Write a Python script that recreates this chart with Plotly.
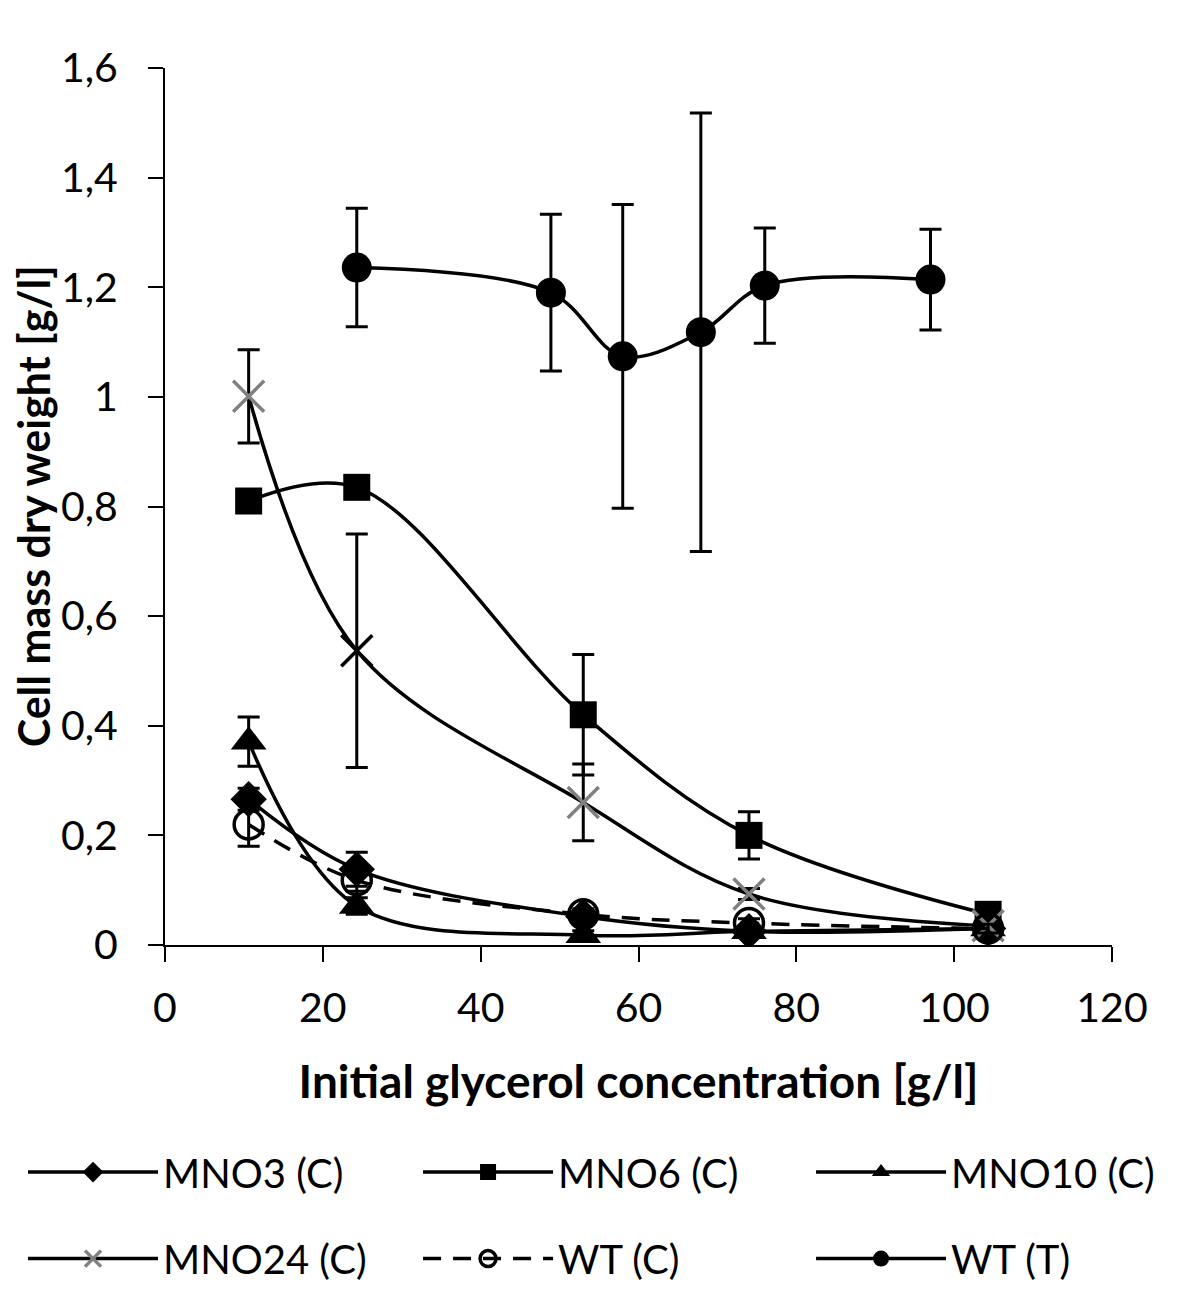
import plotly.graph_objects as go

# ---- data ----
x_c = [10.6, 24.3, 53.0, 74.0, 104.3]

mno3_y = [0.266, 0.138, 0.052, 0.025, 0.030]
mno3_err = [0.020, 0.031, 0.010, 0.008, 0.008]

mno6_y = [0.810, 0.835, 0.420, 0.200, 0.056]
mno6_err = [0.015, 0.015, 0.110, 0.043, 0.008]

mno10_y = [0.371, 0.071, 0.018, 0.025, 0.030]
mno10_err = [0.045, 0.015, 0.008, 0.008, 0.008]

mno24_y = [1.001, 0.537, 0.260, 0.093, 0.035]
mno24_err = [0.085, 0.213, 0.070, 0.010, 0.008]

wtc_y = [0.220, 0.118, 0.056, 0.040, 0.030]
wtc_err = [0.040, 0.020, 0.010, 0.008, 0.008]

x_t = [24.3, 48.9, 58.0, 67.9, 76.0, 97.0]
wtt_y = [1.236, 1.190, 1.074, 1.118, 1.203, 1.214]
wtt_err = [0.108, 0.143, 0.277, 0.400, 0.105, 0.092]

FONT = "Lato"
BLACK = "#000000"
GREY = "#808080"
mno24_colors = [GREY, BLACK, GREY, GREY, GREY]

# page body adds an 8px offset; figure sized so that it fills the window
W, H = 1192, 1298

fig = go.Figure()

def add(name, x, y, err, symbol, size, legend, color=BLACK, dash="solid", mline=None):
    marker = dict(symbol=symbol, size=size, color=color)
    if mline is not None:
        marker["line"] = mline
    fig.add_trace(go.Scatter(
        x=x, y=y, name=name, mode="lines+markers",
        line=dict(color=BLACK, width=3.5, shape="spline", smoothing=1, dash=dash),
        marker=marker,
        error_y=dict(type="data", array=err, visible=True, color=BLACK, thickness=3, width=11),
        legend=legend, showlegend=True,
    ))

add("MNO3 (C)", x_c, mno3_y, mno3_err, "diamond", 28, "legend")
add("MNO6 (C)", x_c, mno6_y, mno6_err, "square", 27, "legend2")
add("MNO10 (C)", x_c, mno10_y, mno10_err, "triangle-up", 31, "legend3")
add("MNO24 (C)", x_c, mno24_y, mno24_err, "x-thin", 31, "legend4", color=mno24_colors,
    mline=dict(color=mno24_colors, width=3.5))
add("WT (C)", x_c, wtc_y, wtc_err, "circle-open", 29, "legend5", dash="18px,12px",
    mline=dict(color=BLACK, width=3.5))
add("WT (T)", x_t, wtt_y, wtt_err, "circle", 30, "legend6")

axis_common = dict(
    showline=True, linecolor=BLACK, linewidth=2,
    ticks="outside", ticklen=15, tickwidth=2, tickcolor=BLACK,
    showgrid=False, zeroline=False, automargin=False,
    tickfont=dict(family=FONT, size=41, color=BLACK),
)

col_x = [0.0126, 0.3440, 0.6737]
row_y = [0.1032, 0.0365]

def leg(cx, ry):
    return dict(
        orientation="h", xref="container", yref="container",
        x=cx, y=ry, xanchor="left", yanchor="middle",
        itemwidth=130,
        font=dict(family=FONT, size=40, color=BLACK),
        bgcolor="rgba(0,0,0,0)",
    )

fig.update_layout(
    width=W, height=H,
    margin=dict(l=157, r=88, t=60, b=361),
    paper_bgcolor="white", plot_bgcolor="white",
    separators=",.",
    showlegend=True,
    font=dict(family=FONT, color=BLACK),
    xaxis=dict(range=[0, 120], dtick=20, ticklabelstandoff=11,
               title=dict(text="<b>Initial glycerol concentration [g/l]</b>",
                          font=dict(family=FONT, size=46, color=BLACK), standoff=36),
               **axis_common),
    yaxis=dict(range=[0, 1.6], dtick=0.2, ticklabelstandoff=22,
               **axis_common),
    legend=leg(col_x[0], row_y[0]),
    legend2=leg(col_x[1], row_y[0]),
    legend3=leg(col_x[2], row_y[0]),
    legend4=leg(col_x[0], row_y[1]),
    legend5=leg(col_x[1], row_y[1]),
    legend6=leg(col_x[2], row_y[1]),
    annotations=[dict(
        text="<b>Cell mass dry weight [g/l]</b>", textangle=-90,
        xref="paper", yref="paper", x=-0.1385, y=0.5,
        xanchor="center", yanchor="middle", showarrow=False,
        font=dict(family=FONT, size=43, color=BLACK),
    )],
)

fig.write_html("out.html")
